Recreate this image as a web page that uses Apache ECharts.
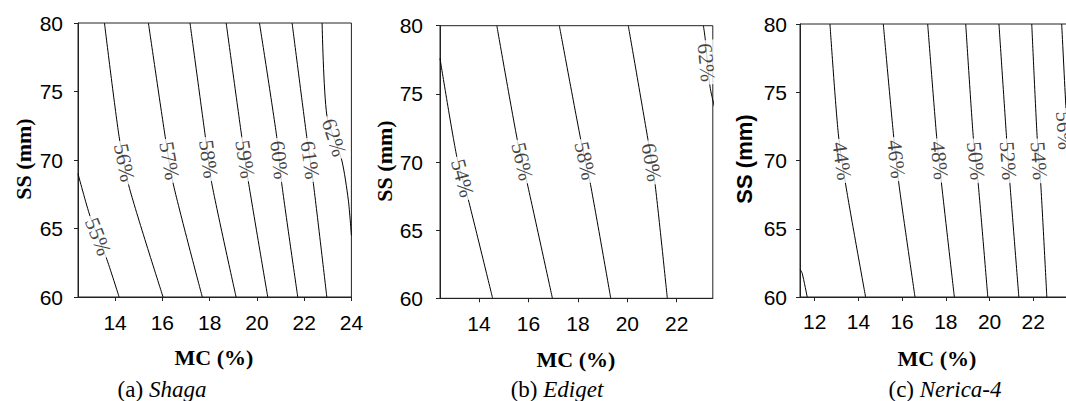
<!DOCTYPE html>
<html>
<head>
<meta charset="utf-8">
<script src="https://cdn.jsdelivr.net/npm/echarts@6/dist/echarts.min.js"></script>
<style>
html,body{margin:0;padding:0;background:#fff;}
#c{width:1066px;height:401px;}
</style>
</head>
<body>
<div id="c"></div>
<script>
// ---------- data ----------
const yTicks = [60, 65, 70, 75, 80];
const xTicksA = [14, 16, 18, 20, 22, 24];
const xTicksB = [14, 16, 18, 20, 22];
const xTicksC = [12, 14, 16, 18, 20, 22];

// (a) Shaga
const levelsA = ['55%', '56%', '57%', '58%', '59%', '60%', '61%', '62%'];
const linesA = [
  [[12.43, 69.0], [12.94, 65.9], [13.62, 62.9], [14.17, 60]],
  [[13.55, 80], [14.17, 71.7], [14.61, 67.93], [16.03, 60]],
  [[15.41, 80], [16.12, 71.7], [16.47, 68.18], [17.69, 60]],
  [[17.17, 80], [17.81, 71.82], [18.09, 68.3], [19.12, 60]],
  [[18.70, 80], [19.36, 71.7], [19.64, 68.42], [20.46, 60]],
  [[20.11, 80], [20.84, 71.7], [21.05, 68.3], [21.73, 60]],
  [[21.49, 80], [22.11, 71.7], [22.39, 68.3], [22.96, 60]],
  [[22.76, 80], [22.96, 73.28], [23.59, 70.0], [23.87, 67.08], [24.0, 64.5]]
];
const labelPosA = [
  [13.28, 64.4], [14.39, 69.8], [16.3, 69.94], [17.95, 70.06],
  [19.5, 70.06], [20.95, 70.0], [22.25, 70.0], [23.27, 71.64]
];

// (b) Ediget
const levelsB = ['54%', '56%', '58%', '60%', '62%'];
const linesB = [
  [[12.42, 77.6], [13.10, 70.39], [13.57, 67.21], [14.55, 60]],
  [[14.72, 80], [15.55, 71.61], [15.95, 68.44], [16.97, 60]],
  [[17.25, 80], [18.12, 71.61], [18.49, 68.55], [19.33, 60]],
  [[20.04, 80], [20.85, 71.49], [21.12, 68.44], [21.62, 60]],
  [[23.08, 80], [23.15, 79.08], [23.35, 75.5], [23.6, 73.5]]
];
const labelPosB = [
  [13.33, 68.8], [15.75, 70.03], [18.3, 70.08], [20.98, 69.97], [23.2, 77.3]
];

// (c) Nerica-4
const levelsC = ['42%', '44%', '46%', '48%', '50%', '52%', '54%', '56%'];
const linesC = [
  [[11.34, 62.0], [11.43, 61.74], [11.66, 60]],
  [[12.70, 80], [13.08, 71.99], [13.46, 67.84], [14.33, 60]],
  [[15.14, 80], [15.6, 71.99], [15.86, 68.2], [16.59, 60]],
  [[17.17, 80], [17.58, 71.74], [17.81, 68.2], [18.39, 60]],
  [[18.91, 80], [19.26, 71.63], [19.48, 68.33], [19.92, 60]],
  [[20.43, 80], [20.78, 71.63], [20.93, 68.33], [21.34, 60]],
  [[21.93, 80], [22.18, 71.63], [22.34, 68.33], [22.62, 60]],
  [[23.3, 80], [23.5, 73.7], [23.62, 71.0], [23.9, 60]]
];
const labelPosC = [
  null, [13.25, 69.96], [15.73, 70.1], [17.7, 70.0], [19.37, 69.98],
  [20.85, 69.98], [22.26, 69.98], [23.42, 72.2]
];

// ---------- chart ----------
const SANS = 'Liberation Sans, Arial, sans-serif';
const SERIF = 'Liberation Serif, Times New Roman, serif';

const panels = [
  { levels: levelsA, lines: linesA, labels: labelPosA, xTicks: xTicksA, xMin: 12.43, xMax: 24,
    grid: { left: 78, top: 23, width: 273.4, height: 274 }, yMargin: 15, xMargin: 15 },
  { levels: levelsB, lines: linesB, labels: labelPosB, xTicks: xTicksB, xMin: 12.42, xMax: 23.46,
    grid: { left: 440, top: 25.7, width: 272.8, height: 272.6 }, yMargin: 17, xMargin: 15 },
  { levels: levelsC, lines: linesC, labels: labelPosC, xTicks: xTicksC, xMin: 11.33, xMax: 24,
    grid: { left: 800, top: 24, width: 277, height: 273 }, yMargin: 13, xMargin: 14 }
];

const chart = echarts.init(document.getElementById('c'), null, { renderer: 'svg' });

const grids = [], xAxes = [], yAxes = [];
panels.forEach((p, g) => {
  grids.push(Object.assign({
    show: true, borderColor: '#222', borderWidth: 1, backgroundColor: 'transparent',
    containLabel: false, outerBoundsMode: 'none'
  }, p.grid));
  xAxes.push({
    gridIndex: g, type: 'value', min: p.xMin, max: p.xMax,
    axisLine: { show: true, onZero: false, lineStyle: { color: '#222', width: 1 } },
    axisTick: { show: true, inside: false, length: 4, customValues: p.xTicks, lineStyle: { color: '#222' } },
    axisLabel: { customValues: p.xTicks, fontSize: 21, color: '#000', fontFamily: SANS, margin: p.xMargin },
    splitLine: { show: false }
  });
  yAxes.push({
    gridIndex: g, type: 'value', min: 60, max: 80,
    axisLine: { show: true, onZero: false, lineStyle: { color: '#222', width: 1 } },
    axisTick: { show: true, inside: false, length: 4, customValues: yTicks, lineStyle: { color: '#222' } },
    axisLabel: { customValues: yTicks, fontSize: 21, color: '#000', fontFamily: SANS, margin: p.yMargin },
    splitLine: { show: false }
  });
});

function buildSeries(rotations) {
  const series = [];
  panels.forEach((p, g) => {
    p.lines.forEach((pts, i) => {
      series.push({
        id: 'l' + g + '_' + i, type: 'line', xAxisIndex: g, yAxisIndex: g,
        data: pts, symbol: 'none', showSymbol: false, smooth: 0.25, clip: true,
        lineStyle: { color: '#000', width: 1 }, silent: true, animation: false, z: 2
      });
    });
    const items = [];
    p.labels.forEach((pos, i) => {
      if (!pos) return;
      items.push({
        value: pos, name: p.levels[i],
        label: { rotate: rotations ? rotations[g][i] : -78 }
      });
    });
    series.push({
      id: 's' + g, type: 'scatter', xAxisIndex: g, yAxisIndex: g,
      symbolSize: 0, z: 10, silent: true, animation: false, data: items,
      label: {
        show: true, position: 'inside', formatter: '{b}',
        fontFamily: SERIF, fontSize: 21, color: '#111',
        backgroundColor: '#fff', padding: [0, 3]
      }
    });
  });
  return series;
}

const graphic = [
  { type: 'text', x: 23, y: 159, rotation: Math.PI / 2,
    style: { text: 'SS (mm)', font: 'bold 22px ' + SERIF, fill: '#000', align: 'center', verticalAlign: 'middle' } },
  { type: 'text', x: 384, y: 161, rotation: Math.PI / 2,
    style: { text: 'SS (mm)', font: 'bold 22px ' + SERIF, fill: '#000', align: 'center', verticalAlign: 'middle' } },
  { type: 'text', x: 744, y: 159, rotation: Math.PI / 2,
    style: { text: 'SS (mm)', font: 'bold 22px ' + SANS, fill: '#000', align: 'center', verticalAlign: 'middle' } },
  { type: 'text', x: 214, y: 357,
    style: { text: 'MC (%)', font: 'bold 22px ' + SERIF, fill: '#000', align: 'center', verticalAlign: 'middle' } },
  { type: 'text', x: 576, y: 359,
    style: { text: 'MC (%)', font: 'bold 22px ' + SERIF, fill: '#000', align: 'center', verticalAlign: 'middle' } },
  { type: 'text', x: 937, y: 358,
    style: { text: 'MC (%)', font: 'bold 22px ' + SERIF, fill: '#000', align: 'center', verticalAlign: 'middle' } }
];
const captions = [['(a) ', 'Shaga', 162], ['(b) ', 'Ediget', 557], ['(c) ', 'Nerica-4', 945]];
captions.forEach(c => {
  graphic.push({
    type: 'text', x: c[2], y: 389,
    style: {
      text: '{r|' + c[0] + '}{i|' + c[1] + '}', align: 'center', verticalAlign: 'middle',
      rich: {
        r: { fontFamily: SERIF, fontSize: 23, color: '#000', fill: '#000' },
        i: { fontFamily: SERIF, fontSize: 23, fontStyle: 'italic', color: '#000', fill: '#000' }
      }
    }
  });
});

chart.setOption({
  animation: false,
  grid: grids, xAxis: xAxes, yAxis: yAxes,
  series: buildSeries(null),
  graphic: graphic
});

// rotate each contour label along its line, using the axes' own pixel mapping
const rotations = panels.map((p, g) => p.labels.map((pos, i) => {
  if (!pos) return 0;
  const pts = p.lines[i];
  let a = pts[0], b = pts[pts.length - 1];
  for (let k = 0; k < pts.length - 1; k++) {
    const y1 = pts[k][1], y2 = pts[k + 1][1];
    if (pos[1] <= Math.max(y1, y2) && pos[1] >= Math.min(y1, y2)) { a = pts[k]; b = pts[k + 1]; break; }
  }
  const pa = chart.convertToPixel({ gridIndex: g }, a);
  const pb = chart.convertToPixel({ gridIndex: g }, b);
  return -Math.atan2(pb[1] - pa[1], pb[0] - pa[0]) * 180 / Math.PI;
}));
chart.setOption({ series: buildSeries(rotations) });
</script>
</body>
</html>
